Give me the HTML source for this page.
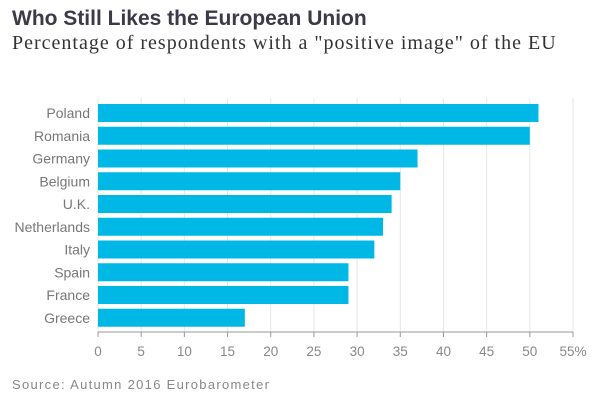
<!DOCTYPE html>
<html><head><meta charset="utf-8"><style>
body{margin:0;background:#fff;width:600px;height:407px;overflow:hidden;font-family:"Liberation Sans",sans-serif}
#t{position:absolute;left:12px;top:7px;font-size:21px;font-weight:bold;color:#3a3a48}
#s{position:absolute;left:12px;top:32px;font-family:"Liberation Serif",serif;font-size:20px;letter-spacing:1px;color:#333}
#src{position:absolute;left:12px;top:377px;font-size:13px;letter-spacing:1.3px;color:#888}
svg{position:absolute;left:0;top:0}
</style></head><body>
<div id="t">Who Still Likes the European Union</div>
<div id="s">Percentage of respondents with a "positive image" of the EU</div>
<svg id="c" width="600" height="407"></svg>
<div id="src">Source: Autumn 2016 Eurobarometer</div>
<script>
const categories=["Poland","Romania","Germany","Belgium","U.K.","Netherlands","Italy","Spain","France","Greece"];
const values=[51,50,37,35,34,33,32,29,29,17];
const ticks=[0,5,10,15,20,25,30,35,40,45,50,55];
const tickLabels=["0","5","10","15","20","25","30","35","40","45","50","55%"];
const svg=document.getElementById('c'),NS="http://www.w3.org/2000/svg";
const x=v=>98+v*(475/55);
const y=i=>104+i*22.75;
function mk(t,a){const e=document.createElementNS(NS,t);for(const k in a)e.setAttribute(k,a[k]);svg.appendChild(e);return e;}
ticks.forEach((t,i)=>{
  const g=mk('line',{x1:x(t),x2:x(t),y1:98,y2:332,stroke:'#e6e6e6','stroke-width':1});
  
  
  const tk=mk('line',{x1:x(t),x2:x(t),y1:332,y2:337,stroke:'#999','stroke-width':1});
  
  
  const l=mk('text',{x:x(t),y:356,'text-anchor':'middle','font-size':13.5,fill:'#888','font-family':'Liberation Sans,sans-serif'});
  l.textContent=tickLabels[i];
  
  
});
const ax=mk('line',{x1:98,x2:573,y1:332,y2:332,stroke:'#999','stroke-width':1});


categories.forEach((c,i)=>{
  const r=mk('rect',{x:x(0),y:y(i),width:x(values[i])-x(0),height:18,fill:'#00b8e6'});
  
  
  const l=mk('text',{x:90,y:y(i)+14,'text-anchor':'end','font-size':14,fill:'#777','font-family':'Liberation Sans,sans-serif'});
  l.textContent=c;
  
  
});
</script>
</body></html>
